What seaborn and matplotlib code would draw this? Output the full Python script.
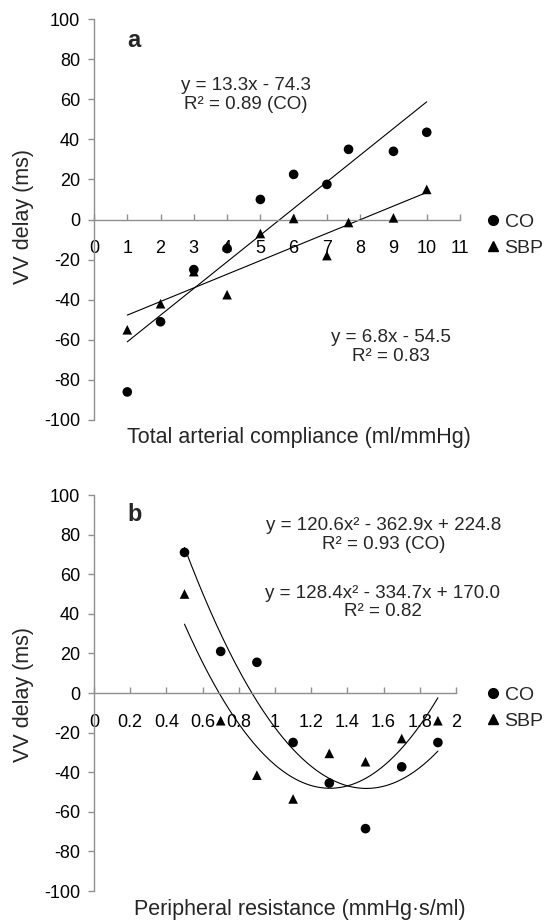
import numpy as np
import pandas as pd
import matplotlib
matplotlib.use("Agg")
import matplotlib.pyplot as plt
import seaborn as sns
from matplotlib.lines import Line2D

sns.set_theme(style="white")
plt.rcParams["font.family"] = ["Liberation Sans", "DejaVu Sans"]

# ---------------- data: panel a ----------------
a_co_x = [1, 2, 3, 4, 5, 6, 7, 7.65, 9, 10]
a_co_y = [-86, -51, -25, -14.5, 10, 22.5, 17.5, 35, 34, 43.5]
a_sbp_x = [1, 2, 3, 4, 4, 5, 6, 7, 7.65, 9, 10]
a_sbp_y = [-55, -42, -26, -13.5, -37.5, -7, 0.5, -18, -1.5, 0.8, 15]
a_fit_co = [13.3, -74.3]          # slope, intercept
a_fit_sbp = [6.8, -54.5]
a_fit_range = [1, 10]
a_xticks = list(range(0, 12))

# ---------------- data: panel b ----------------
b_co_x = [0.5, 0.7, 0.9, 1.1, 1.3, 1.5, 1.7, 1.9]
b_co_y = [71, 21, 15.5, -25, -45.5, -68.5, -37.3, -25]
b_sbp_x = [0.5, 0.7, 0.9, 1.1, 1.3, 1.5, 1.7, 1.9]
b_sbp_y = [50, -14, -41.5, -53.5, -30.5, -34.7, -23, -14]
b_fit_co = [120.6, -362.9, 224.8]   # a2, a1, a0
b_fit_sbp = [128.4, -334.7, 170.0]
b_fit_range = [0.5, 1.9]
b_xticks = [0, 0.2, 0.4, 0.6, 0.8, 1.0, 1.2, 1.4, 1.6, 1.8, 2.0]
b_xticklabels = ["0", "0.2", "0.4", "0.6", "0.8", "1", "1.2", "1.4", "1.6", "1.8", "2"]

y_ticks = list(range(-100, 101, 20))
series_names = ["CO", "SBP"]

# ---------------- figure ----------------
W, H = 549, 923
fig = plt.figure(figsize=(W / 100, H / 100), dpi=100)
fig.patch.set_facecolor("white")


def add_axes(l, t, r, b):
    return fig.add_axes([l / W, 1 - b / H, (r - l) / W, (b - t) / H])


ax_a = add_axes(94, 19, 460, 420)
ax_b = add_axes(94, 495, 456, 891)

GREY = "#8f8f8f"


def style(ax, xlim, xticks, xticklabels):
    ax.set_facecolor("white")
    ax.set_xlim(xlim)
    ax.set_ylim(-100, 100)
    ax.spines["top"].set_visible(False)
    ax.spines["right"].set_visible(False)
    ax.spines["bottom"].set_position(("data", 0))
    for s in ["left", "bottom"]:
        ax.spines[s].set_color(GREY)
        ax.spines[s].set_linewidth(1.0)
    ax.set_yticks(y_ticks)
    ax.set_yticklabels([str(v) for v in y_ticks])
    ax.set_xticks(xticks)
    ax.set_xticklabels(xticklabels)
    ax.tick_params(axis="y", direction="out", length=4, width=1, color=GREY,
                   pad=6, labelsize=13, labelcolor="black", left=True)
    ax.tick_params(axis="x", direction="in", length=4, width=1, color=GREY,
                   pad=15, labelsize=13, labelcolor="black", bottom=True)
    ax.set_xlabel("")
    ax.set_ylabel("")
    ax.grid(False)


def draw(ax, cx, cy, sx, sy):
    df = pd.DataFrame({
        "x": list(cx) + list(sx),
        "y": list(cy) + list(sy),
        "series": ["CO"] * len(cx) + ["SBP"] * len(sx),
    })
    sns.scatterplot(data=df, x="x", y="y", style="series",
                    markers={"CO": "o", "SBP": "^"}, color="black",
                    s=48, edgecolor="black", linewidth=0, ax=ax,
                    legend=False, zorder=3)


# panel a
draw(ax_a, a_co_x, a_co_y, a_sbp_x, a_sbp_y)
xa = np.linspace(a_fit_range[0], a_fit_range[1], 50)
for coef in (a_fit_co, a_fit_sbp):
    sns.lineplot(x=xa, y=np.polyval(coef, xa), color="black", linewidth=0.8,
                 ax=ax_a, zorder=2)
style(ax_a, (0, 11), a_xticks, [str(v) for v in a_xticks])

# panel b
draw(ax_b, b_co_x, b_co_y, b_sbp_x, b_sbp_y)
xb = np.linspace(b_fit_range[0], b_fit_range[1], 200)
for coef in (b_fit_co, b_fit_sbp):
    sns.lineplot(x=xb, y=np.polyval(coef, xb), color="black", linewidth=0.8,
                 ax=ax_b, zorder=2)
style(ax_b, (0, 2), b_xticks, b_xticklabels)

# annotations panel a
ax_a.text(1.21, 89.5, "a", fontsize=17, fontweight="bold", ha="center", va="center")
ax_a.text(4.56, 62, "y = 13.3x - 74.3\nR² = 0.89 (CO)", fontsize=13.5,
          ha="center", va="center", linespacing=1.15)
ax_a.text(8.92, -63.8, "y = 6.8x - 54.5\nR² = 0.83", fontsize=13.5,
          ha="center", va="center", linespacing=1.15)

# annotations panel b
ax_b.text(0.223, 90, "b", fontsize=17, fontweight="bold", ha="center", va="center")
ax_b.text(1.60, 79.6, "y = 120.6x² - 362.9x + 224.8\nR² = 0.93 (CO)", fontsize=13.5,
          ha="center", va="center", linespacing=1.15)
ax_b.text(1.596, 45.7, "y = 128.4x² - 334.7x + 170.0\nR² = 0.82", fontsize=13.5,
          ha="center", va="center", linespacing=1.15)

# axis titles (figure pixel positions)
fig.text(299 / W, 1 - 438 / H, "Total arterial compliance (ml/mmHg)",
         fontsize=15.5, ha="center", va="center")
fig.text(300 / W, 1 - 910 / H, "Peripheral resistance (mmHg·s/ml)",
         fontsize=15.5, ha="center", va="center")
fig.text(23 / W, 1 - 217 / H, "VV delay (ms)", fontsize=15.5, rotation=90,
         ha="center", va="center")
fig.text(23 / W, 1 - 695 / H, "VV delay (ms)", fontsize=15.5, rotation=90,
         ha="center", va="center")

# legends
handles = [
    Line2D([], [], marker="o", linestyle="none", color="black", markersize=7),
    Line2D([], [], marker="^", linestyle="none", color="black", markersize=7),
]
for ax, yc in ((ax_a, 235), (ax_b, 708)):
    leg = ax.legend(handles, series_names, frameon=False, fontsize=14,
                    loc="center left", handlelength=0.6, handletextpad=0.3,
                    labelspacing=0.45, borderpad=0, borderaxespad=0,
                    bbox_to_anchor=(487 / W, 1 - yc / H),
                    bbox_transform=fig.transFigure)

fig.savefig("out.png", dpi=100, facecolor="white")
